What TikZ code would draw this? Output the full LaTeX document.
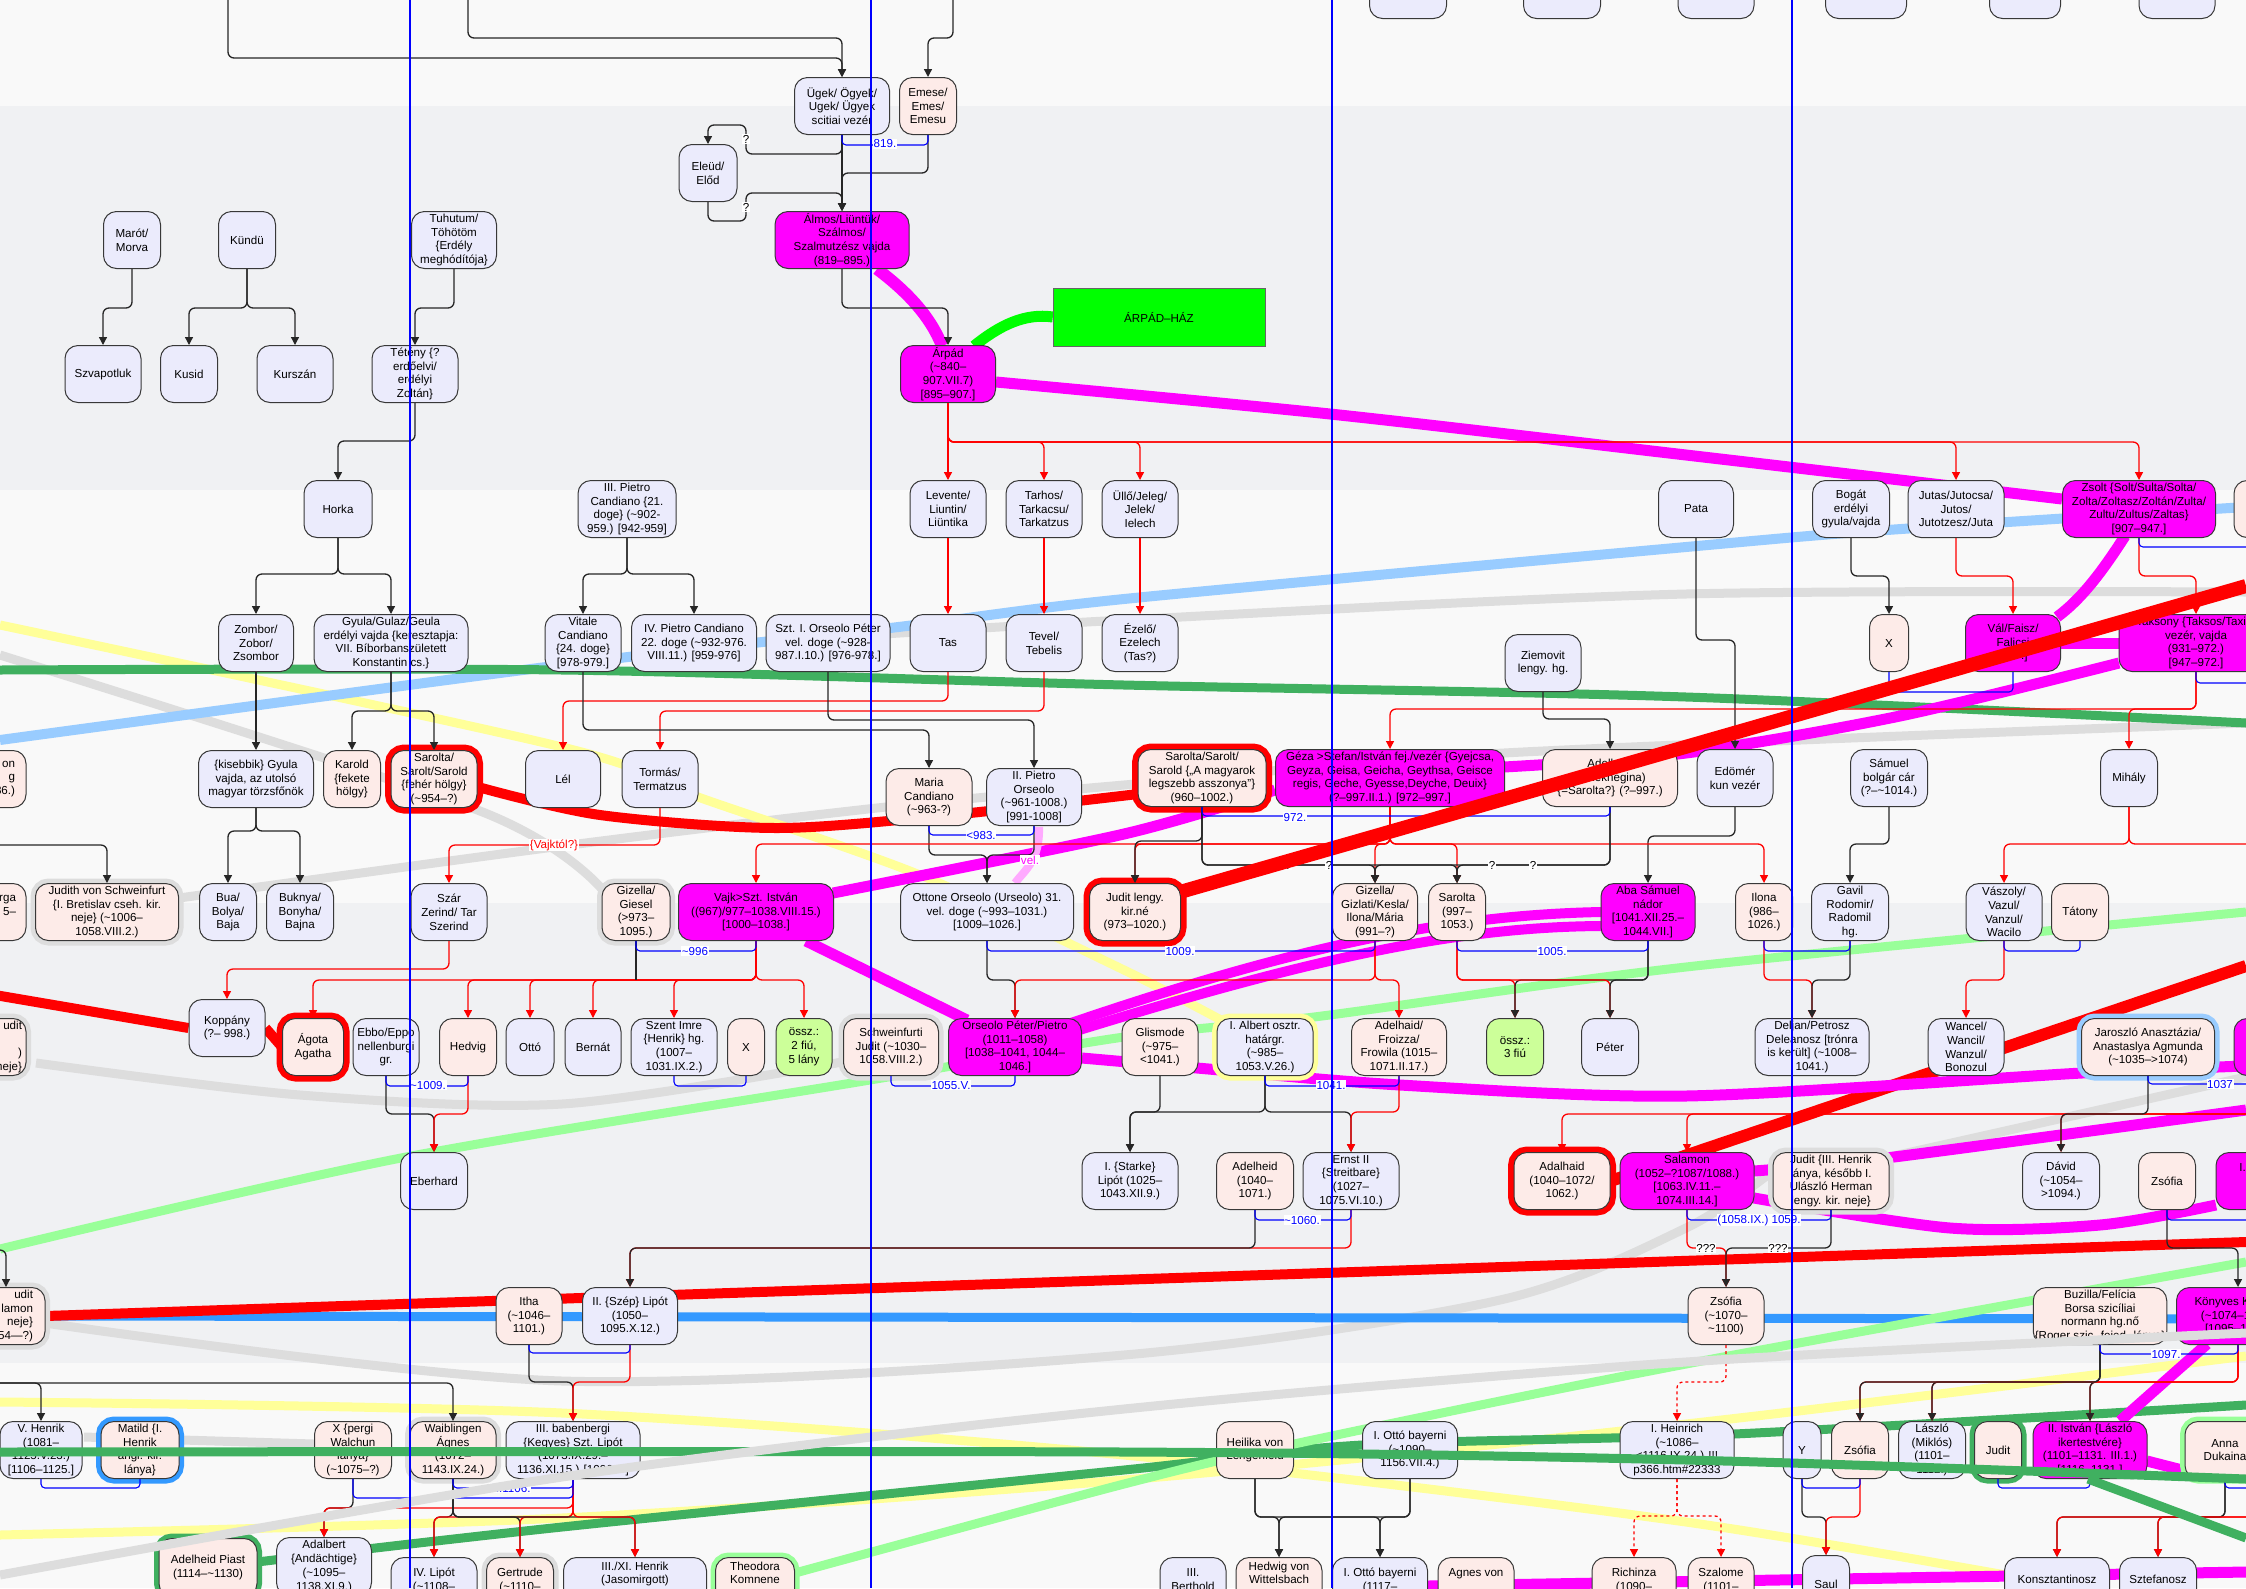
\documentclass[tikz,border=0pt]{standalone}
\usepackage{fontspec}
\setmainfont{Liberation Sans}
\usetikzlibrary{arrows.meta,backgrounds}
\definecolor{manfill}{RGB}{235,235,252}
\definecolor{womfill}{RGB}{253,235,232}
\definecolor{rulermag}{RGB}{255,0,255}
\definecolor{sumgreen}{RGB}{204,255,153}
\definecolor{bandgray}{RGB}{240,241,243}
\definecolor{pagegray}{RGB}{249,249,249}
\definecolor{dkgreen}{RGB}{64,176,96}
\definecolor{ltgreen}{RGB}{153,255,153}
\definecolor{ltyellow}{RGB}{255,255,153}
\definecolor{ltblue}{RGB}{153,204,255}
\definecolor{midblue}{RGB}{51,153,255}
\definecolor{ltgray}{RGB}{221,221,221}
\definecolor{housegreen}{RGB}{0,255,0}
\definecolor{velpink}{RGB}{255,170,255}
\newcommand{\nodefont}{\fontsize{11.6}{13.8}\selectfont}
\newcommand{\tld}{\textasciitilde}
\tikzset{
  person/.style={draw=black!78, line width=1pt, rounded corners=13pt, align=center, font=\nodefont, inner sep=1.5pt, minimum height=57pt},
  man/.style={person, fill=manfill},
  wom/.style={person, fill=womfill},
  ruler/.style={person, fill=rulermag},
  sumbox/.style={person, fill=sumgreen},
  redring/.style={preaction={draw=red, line width=12pt}},
  halo/.style={preaction={draw=#1, line width=10pt}},
  cutoff/.style={anchor=north, minimum height=58pt},
  kid/.style={draw=black!85, line width=1.3pt, rounded corners=6pt, -{Triangle[length=8pt,width=8pt]}},
  kidr/.style={kid, draw=red},
  blk/.style={draw=black!85, line width=1.3pt, rounded corners=6pt},
  redl/.style={blk, draw=red},
  wed/.style={draw=blue, line width=1.1pt, rounded corners=4pt},
  wedlab/.style={fill=white, text=blue, inner sep=0.6pt, font=\nodefont},
  qlab/.style={fill=white, inner sep=0.6pt, font=\nodefont},
  dyn/.style={line width=#1},
  dyn/.default=10pt
}
\begin{document}
\begin{tikzpicture}[x=1pt,y=-1pt]
  \useasboundingbox (0,0) rectangle (2246,1588);

  % boxes cut by the top edge
  \node[man, anchor=south, minimum width=77pt] (top1) at (1408,19) {};
  \node[man, anchor=south, minimum width=77pt] (top2) at (1562,19) {};
  \node[man, anchor=south, minimum width=76pt] (top3) at (1716,19) {};
  \node[man, anchor=south, minimum width=81pt] (top4) at (1866,19) {};
  \node[man, anchor=south, minimum width=71pt] (top5) at (2025,19) {};
  \node[man, anchor=south, minimum width=76pt] (top6) at (2177,19) {};

  % Ügek, Álmos, Árpád
  \node[man, minimum width=95pt] (ugek) at (842,106) {Ügek/ Ögyek/\\Ugek/ Ügyek\\scitiai vezér};
  \node[wom, minimum width=57pt] (emese) at (928,106) {Emese/\\Emes/\\Emesu};
  \node[man, minimum width=58pt] (eleud) at (708,173) {Eleüd/\\Előd};
  \node[ruler, minimum width=134pt] (almos) at (842,240) {Álmos/Liüntük/\\Szálmos/\\Szalmutzész vajda\\(819–895.)};
  \node[draw=black!60, fill=housegreen, minimum width=212pt, minimum height=58pt, font=\nodefont] (haz) at (1159,317) {ÁRPÁD–HÁZ};
  \node[ruler, minimum width=95pt] (arpad) at (948,374) {Árpád\\(\tld840–\\907.VII.7)\\{}[895–907.]};

  % left chiefs
  \node[man, minimum width=57pt] (marot) at (132,240) {Marót/\\Morva};
  \node[man, minimum width=57pt] (kundu) at (247,240) {Kündü};
  \node[man, minimum width=85pt] (tuhutum) at (454,240) {Tuhutum/\\Töhötöm\\\{Erdély\\meghódítója\}};
  \node[man, minimum width=76pt] (szvap) at (103,374) {Szvapotluk};
  \node[man, minimum width=57pt] (kusid) at (189,374) {Kusid};
  \node[man, minimum width=76pt] (kurszan) at (295,374) {Kurszán};
  \node[man, minimum width=86pt] (teteny) at (415,374) {Tétény \{?\\erdőelvi/\\erdélyi\\Zoltán\}};
  \node[man, minimum width=68pt] (horka) at (338,509) {Horka};

  % row of Árpád's sons
  \node[man, minimum width=98pt] (pietro3) at (627,509) {III. Pietro\\Candiano \{21.\\doge\} (\tld902-\\959.) [942-959]};
  \node[man, minimum width=76pt] (levente) at (948,509) {Levente/\\Liuntin/\\Liüntika};
  \node[man, minimum width=76pt] (tarhos) at (1044,509) {Tarhos/\\Tarkacsu/\\Tarkatzus};
  \node[man, minimum width=76pt] (ullo) at (1140,509) {Üllő/Jeleg/\\Jelek/\\Ielech};
  \node[man, minimum width=75pt] (pata) at (1696,509) {Pata};
  \node[man, minimum width=77pt] (bogat) at (1851,509) {Bogát\\erdélyi\\gyula/vajda};
  \node[man, minimum width=96pt] (jutas) at (1956,509) {Jutas/Jutocsa/\\Jutos/\\Jutotzesz/Juta};
  \node[ruler, minimum width=153pt] (zsolt) at (2139,509) {Zsolt \{Solt/Sulta/Solta/\\Zolta/Zoltasz/Zoltán/Zulta/\\Zultu/Zultus/Zaltas\}\\{}[907–947.]};
  \node[wom, minimum width=56pt] (rpa) at (2262,509) {};

  % grandsons
  \node[man, minimum width=75pt] (zombor) at (256,643) {Zombor/\\Zobor/\\Zsombor};
  \node[man, minimum width=154pt] (gyula) at (391,643) {Gyula/Gulaz/Geula\\erdélyi vajda \{keresztapja:\\VII. Bíborbanszületett\\Konstantin cs.\}};
  \node[man, minimum width=76pt] (vitale) at (583,643) {Vitale\\Candiano\\\{24. doge\}\\{}[978-979.]};
  \node[man, minimum width=125pt] (pietro4) at (694,643) {IV. Pietro Candiano\\22. doge (\tld932-976.\\VIII.11.) [959-976]};
  \node[man, minimum width=124pt] (orseoloa) at (828,643) {Szt. I. Orseolo Péter\\vel. doge (\tld928-\\987.I.10.) [976-978.]};
  \node[man, minimum width=76pt] (tas) at (948,643) {Tas};
  \node[man, minimum width=76pt] (tevel) at (1044,643) {Tevel/\\Tebelis};
  \node[man, minimum width=76pt] (ezelo) at (1140,643) {Ézelő/\\Ezelech\\(Tas?)};
  \node[man, minimum width=76pt] (ziemovit) at (1543,663) {Ziemovit\\lengy. hg.};
  \node[wom, minimum width=39pt] (xbog) at (1889,643) {X};
  \node[ruler, minimum width=95pt] (val) at (2013,643) {Vál/Faisz/\\Falicsi\\{}[947.]};
  \node[ruler, minimum width=154pt] (taksony) at (2196,643) {Taksony \{Taksos/Taxis\}\\vezér, vajda\\(931–972.)\\{}[947–972.]};

  % row of Géza
  \node[wom, minimum width=76pt, text width=54pt, align=right] (lpa) at (-12,779) {on\\g\\86.)};
  \node[man, minimum width=115pt] (gyulak) at (256,779) {\{kisebbik\} Gyula\\vajda, az utolsó\\magyar törzsfőnök};
  \node[wom, minimum width=57pt] (karold) at (352,779) {Karold\\\{fekete\\hölgy\}};
  \node[wom, redring, minimum width=86pt] (sarolta1) at (434,779) {Sarolta/\\Sarolt/Sarold\\\{fehér hölgy\}\\(\tld954–?)};
  \node[man, minimum width=75pt] (lel) at (563,779) {Lél};
  \node[man, minimum width=76pt] (tormas) at (660,779) {Tormás/\\Termatzus};
  \node[wom, minimum width=86pt] (maria) at (929,797) {Maria\\Candiano\\(\tld963-?)};
  \node[man, minimum width=95pt] (pietro2) at (1034,797) {II. Pietro\\Orseolo\\(\tld961-1008.)\\{}[991-1008]};
  \node[wom, redring, minimum width=128pt] (sarolta2) at (1202,778) {Sarolta/Sarolt/\\Sarold \{„A magyarok\\legszebb asszonya”\}\\(960–1002.)};
  \node[ruler, minimum width=229pt] (geza) at (1390,778) {Géza >Stefan/István fej./vezér \{Gyejcsa,\\Geyza, Geisa, Geicha, Geythsa, Geisce\\regis, Geche, Gyesse,Deyche, Deuix\}\\(?–997.II.1.) [972–997.]};
  \node[wom, minimum width=135pt] (adelhaid) at (1610,778) {Adelhaid\\(Beleknegina)\\\{=Sarolta?\} (?–997.)};
  \node[man, minimum width=76pt] (edomer) at (1735,778) {Edömér\\kun vezér};
  \node[man, minimum width=77pt] (samuel) at (1889,778) {Sámuel\\bolgár cár\\(?–\tld1014.)};
  \node[man, minimum width=57pt] (mihaly) at (2129,778) {Mihály};

  % row of István
  \node[wom, minimum width=76pt, text width=56pt, align=right] (lpb) at (-12,912) {rga\\5–\\\mbox{}};
  \node[wom, halo=ltgray, minimum width=143pt] (judithsch) at (107,912) {Judith von Schweinfurt\\\{I. Bretislav cseh. kir.\\neje\} (\tld1006–\\1058.VIII.2.)};
  \node[man, minimum width=57pt] (bua) at (228,912) {Bua/\\Bolya/\\Baja};
  \node[man, minimum width=67pt] (buknya) at (300,912) {Buknya/\\Bonyha/\\Bajna};
  \node[man, minimum width=76pt] (szar) at (449,912) {Szár\\Zerind/ Tar\\Szerind};
  \node[wom, halo=ltgray, minimum width=68pt] (gizella) at (636,912) {Gizella/\\Giesel\\(>973–\\1095.)};
  \node[ruler, minimum width=155pt] (vajk) at (756,912) {Vajk>Szt. István\\((967)/977–1038.VIII.15.)\\{}[1000–1038.]};
  \node[man, minimum width=173pt] (ottone) at (987,912) {Ottone Orseolo (Urseolo) 31.\\vel. doge (\tld993–1031.)\\{}[1009–1026.]};
  \node[wom, redring, minimum width=91pt] (juditl) at (1135,912) {Judit lengy.\\kir.né\\(973–1020.)};
  \node[wom, minimum width=85pt] (gizella2) at (1375,912) {Gizella/\\Gizlati/Kesla/\\Ilona/Mária\\(991–?)};
  \node[wom, minimum width=57pt] (sarolta3) at (1457,912) {Sarolta\\(997–\\1053.)};
  \node[ruler, minimum width=94pt] (aba) at (1648,912) {Aba Sámuel\\nádor\\{}[1041.XII.25.–\\1044.VII.]};
  \node[wom, minimum width=57pt] (ilona) at (1764,912) {Ilona\\(986–\\1026.)};
  \node[man, minimum width=77pt] (gavil) at (1850,912) {Gavil\\Rodomir/\\Radomil\\hg.};
  \node[man, minimum width=76pt] (vaszoly) at (2004,912) {Vászoly/\\Vazul/\\Vanzul/\\Wacilo};
  \node[wom, minimum width=57pt] (tatony) at (2080,912) {Tátony};
  \node[man, minimum width=76pt] (koppany) at (227,1028) {Koppány\\(?– 998.)};

  % row of Imre and Orseolo Péter
  \node[wom, halo=ltgray, minimum width=76pt, text width=68pt, align=right] (lpc) at (-12,1047) {udit\\\mbox{}\\)\\neje\}};
  \node[wom, redring, minimum width=61pt] (agota) at (313,1047) {Ágota\\Agatha};
  \node[man, minimum width=66pt] (ebbo) at (386,1047) {Ebbo/Eppo\\nellenburgi\\gr.};
  \node[wom, minimum width=57pt] (hedvig) at (468,1047) {Hedvig};
  \node[man, minimum width=48pt] (otto) at (530,1047) {Ottó};
  \node[man, minimum width=56pt] (bernat) at (593,1047) {Bernát};
  \node[man, minimum width=86pt] (imre) at (674,1047) {Szent Imre\\\{Henrik\} hg.\\(1007–\\1031.IX.2.)};
  \node[wom, minimum width=37pt] (ximre) at (746,1047) {X};
  \node[sumbox, minimum width=56pt] (osszA) at (804,1047) {össz.:\\2 fiú,\\5 lány};
  \node[wom, halo=ltgray, minimum width=95pt] (judits) at (891,1047) {Schweinfurti\\Judit (\tld1030–\\1058.VIII.2.)};
  \node[ruler, minimum width=133pt] (orseolo) at (1015,1047) {Orseolo Péter/Pietro\\(1011–1058)\\{}[1038–1041, 1044–\\1046.]};
  \node[wom, minimum width=76pt] (glismode) at (1160,1047) {Glismode\\(\tld975–\\<1041.)};
  \node[man, halo=ltyellow, minimum width=96pt] (albert) at (1265,1047) {I. Albert osztr.\\határgr.\\(\tld985–\\1053.V.26.)};
  \node[wom, minimum width=95pt] (frowila) at (1399,1047) {Adelhaid/\\Froizza/\\Frowila (1015–\\1071.II.17.)};
  \node[sumbox, minimum width=57pt] (osszB) at (1515,1047) {össz.:\\3 fiú};
  \node[man, minimum width=57pt] (peter) at (1610,1047) {Péter};
  \node[man, minimum width=114pt] (deljan) at (1812,1047) {Deljan/Petrosz\\Deleanosz [trónra\\is került] (\tld1008–\\1041.)};
  \node[man, minimum width=76pt] (wancel) at (1966,1047) {Wancel/\\Wancil/\\Wanzul/\\Bonozul};
  \node[wom, halo=ltblue, minimum width=133pt] (jaroszlo) at (2148,1047) {Jaroszló Anasztázia/\\Anastaslya Agmunda\\(\tld1035–>1074)};
  \node[ruler, minimum width=72pt] (rpb) at (2270,1047) {};

  % row of Salamon
  \node[man, minimum width=67pt] (eberhard) at (434,1181) {Eberhard};
  \node[man, minimum width=96pt] (starke) at (1130,1181) {I. \{Starke\}\\Lipót (1025–\\1043.XII.9.)};
  \node[wom, minimum width=77pt] (adelheidb) at (1255,1181) {Adelheid\\(1040–\\1071.)};
  \node[man, minimum width=96pt] (ernst) at (1351,1181) {Ernst II\\\{Streitbare\}\\(1027–\\1075.VI.10.)};
  \node[wom, redring, minimum width=96pt] (adalhaid) at (1562,1181) {Adalhaid\\(1040–1072/\\1062.)};
  \node[ruler, minimum width=134pt] (salamon) at (1687,1181) {Salamon\\(1052–?1087/1088.)\\{}[1063.IV.11.–\\1074.III.14.]};
  \node[wom, halo=ltgray, minimum width=116pt] (judith) at (1831,1181) {Judit \{III. Henrik\\lánya, később I.\\Ulászló Herman\\lengy. kir. neje\}};
  \node[man, minimum width=77pt] (david) at (2061,1181) {Dávid\\(\tld1054–\\>1094.)};
  \node[wom, minimum width=57pt] (zsofiar) at (2167,1181) {Zsófia};
  \node[ruler, minimum width=84pt] (gezaa) at (2258,1181) {I. Géza\\\mbox{}\\\mbox{}};

  % row of Lipót and Könyves
  \node[wom, halo=ltgray, minimum width=100pt, text width=76pt, align=right] (lpd) at (-5,1316) {udit\\lamon\\neje\}\\54—?)};
  \node[wom, minimum width=66pt] (itha) at (529,1316) {Itha\\(\tld1046–\\1101.)};
  \node[man, minimum width=95pt] (lipotb) at (630,1316) {II. \{Szép\} Lipót\\(1050–\\1095.X.12.)};
  \node[wom, minimum width=76pt] (zsofia) at (1726,1316) {Zsófia\\(\tld1070–\\\tld1100)};
  \node[wom, minimum width=133pt] (buzilla) at (2100,1316) {Buzilla/Felícia\\Borsa szicíliai\\normann hg.nő\\\{Roger szic. fejed. lánya\}};
  \node[ruler, minimum width=123pt] (konyves) at (2238,1316) {Könyves Kálmán\\(\tld1074–1116.)\\{}[1095–1116.]};

  % row of V. Henrik
  \node[man, minimum width=82pt] (henrikv) at (41,1450) {V. Henrik\\(1081–\\1125.V.23.)\\{}[1106–1125.]};
  \node[wom, halo=midblue, minimum width=78pt] (matild) at (140,1450) {Matild \{I.\\Henrik\\angl. kir.\\lánya\}};
  \node[wom, minimum width=77pt] (xpergi) at (353,1450) {X \{pergi\\Walchun\\lánya\}\\(\tld1075–?)};
  \node[wom, halo=ltgray, minimum width=86pt] (waibl) at (453,1450) {Waiblingen\\Ágnes\\(1072–\\1143.IX.24.)};
  \node[man, minimum width=134pt] (babenb) at (573,1450) {III. babenbergi\\\{Kegyes\} Szt. Lipót\\(1073.IX.29.–\\1136.XI.15.) [1096–?]};
  \node[wom, minimum width=77pt] (heilika) at (1255,1450) {Heilika von\\Lengenfeld};
  \node[man, minimum width=95pt] (ottoa) at (1410,1450) {I. Ottó bayerni\\(\tld1090–\\1156.VII.4.)};
  \node[man, minimum width=114pt] (heinrich) at (1677,1450) {I. Heinrich\\(\tld1086–\\<1116.IX.24.) !!!\\p366.htm\#22333};
  \node[man, minimum width=38pt] (yman) at (1802,1450) {Y};
  \node[wom, minimum width=57pt] (zsofiac) at (1860,1450) {Zsófia};
  \node[man, minimum width=67pt] (laszlo) at (1932,1450) {László\\(Miklós)\\(1101–\\1112.)};
  \node[wom, halo=dkgreen, minimum width=47pt] (juditb) at (1998,1450) {Judit};
  \node[ruler, minimum width=114pt] (istvanb) at (2090,1450) {II. István \{László\\ikertestvére\}\\(1101–1131. III.1.)\\{}[1116–1131.]};
  \node[wom, halo=ltgreen, minimum width=80pt] (anna) at (2225,1450) {Anna\\Dukaina};

  % bottom row, cut by the edge
  \node[wom, halo=dkgreen, cutoff, minimum width=98pt] (piast) at (208,1538) {Adelheid Piast\\(1114–\tld1130)};
  \node[man, cutoff, minimum width=95pt] (adalbert) at (324,1537) {Adalbert\\\{Andächtige\}\\(\tld1095–\\1138.XI.9.)};
  \node[man, cutoff, minimum width=86pt] (lipotd) at (434,1557) {IV. Lipót\\(\tld1108–\\\mbox{}};
  \node[wom, halo=ltgray, cutoff, minimum width=67pt] (gertrude) at (520,1557) {Gertrude\\(\tld1110–\\\mbox{}};
  \node[man, cutoff, minimum width=143pt] (henrikc) at (635,1557) {III./XI. Henrik\\(Jasomirgott)\\\mbox{}\\\mbox{}};
  \node[wom, halo=ltgreen, cutoff, minimum width=79pt] (theodora) at (755,1557) {Theodora\\Komnene\\\mbox{}\\\mbox{}};
  \node[man, cutoff, minimum width=66pt] (berthold) at (1193,1557) {III.\\Berthold\\\mbox{}};
  \node[wom, cutoff, minimum width=86pt] (hedwig) at (1279,1557) {Hedwig von\\Wittelsbach\\\mbox{}\\\mbox{}};
  \node[man, cutoff, minimum width=95pt] (ottob) at (1380,1557) {I. Ottó bayerni\\(1117–\\\mbox{}};
  \node[wom, cutoff, minimum width=76pt] (agnes) at (1476,1557) {Agnes von\\\mbox{}\\\mbox{}};
  \node[wom, cutoff, minimum width=84pt] (richinza) at (1634,1557) {Richinza\\(1090–\\\mbox{}};
  \node[wom, cutoff, minimum width=66pt] (szalome) at (1721,1557) {Szalome\\(1101–\\\mbox{}};
  \node[man, cutoff, minimum width=47pt] (saul) at (1826,1555) {Saul};
  \node[man, cutoff, minimum width=105pt] (konst) at (2057,1557) {Konsztantinosz\\\mbox{}};
  \node[man, cutoff, minimum width=77pt] (sztef) at (2158,1557) {Sztefanosz\\\mbox{}};

  % parents and children
  \coordinate (upa) at (228,-5);
  \coordinate (upb) at (468,-5);
  \coordinate (upc) at (953,-5);
  \draw[kid] (upa) -- (upa |- 0,58) -| (ugek.north);
  \draw[kid] (upb) -- (upb |- 0,38) -| (ugek.north);
  \draw[kid] (upc) -- (upc |- 0,38) -| (emese.north);
  \draw[kid] (ugek.south) |- (746,154) -- (746,125) -| (eleud.north);
  \draw[kid] (eleud.south) |- (746,221) -- (746,193) -| (almos.north);
  \draw[kid] (ugek.south) -- (almos.north);
  \draw[kid] (emese.south) -- (emese.south |- 0,173) -| (almos.north);
  \draw[kid] (almos.south) -- (almos.south |- 0,308) -| (arpad.north);
  \foreach \ch in {levente,tarhos,ullo,jutas,zsolt}
    \draw[kidr] (arpad.south) -- (arpad.south |- 0,442) -| (\ch.north);
  \draw[kid] (marot.south) -- (marot.south |- 0,308) -| (szvap.north);
  \foreach \ch in {kusid,kurszan}
    \draw[kid] (kundu.south) -- (kundu.south |- 0,308) -| (\ch.north);
  \draw[kid] (tuhutum.south) -- (tuhutum.south |- 0,308) -| (teteny.north);
  \draw[kid] (teteny.south) -- (teteny.south |- 0,441) -| (horka.north);
  \foreach \ch in {zombor,gyula}
    \draw[kid] (horka.south) -- (horka.south |- 0,574) -| (\ch.north);
  \foreach \ch in {vitale,pietro4}
    \draw[kid] (pietro3.south) -- (pietro3.south |- 0,574) -| (\ch.north);
  \draw[kidr] (levente.south) -- (tas.north);
  \draw[kidr] (tarhos.south) -- (tevel.north);
  \draw[kidr] (ullo.south) -- (ezelo.north);
  \draw[kid] (zombor.south) -- (gyulak.north);
  \foreach \ch in {karold,sarolta1}
    \draw[kid] (gyula.south) -- (gyula.south |- 0,711) -| (\ch.north);
  \draw[kidr] (tas.south) -- (tas.south |- 0,701) -| (lel.north);
  \draw[kidr] (tevel.south) -- (tevel.south |- 0,711) -| (tormas.north);
  \draw[kid] (vitale.south) -- (vitale.south |- 0,730) -| (maria.north);
  \draw[kid] (orseoloa.south) -- (orseoloa.south |- 0,720) -| (pietro2.north);
  \draw[kid] (ziemovit.south) -- (ziemovit.south |- 0,719) -| (adelhaid.north);
  \draw[kid] (pata.south) -- (pata.south |- 0,640) -| (edomer.north);
  \draw[kid] (bogat.south) -- (bogat.south |- 0,576) -| (xbog.north);
  \draw[kidr] (jutas.south) -- (jutas.south |- 0,576) -| (val.north);
  \draw[kidr] (zsolt.south) -- (zsolt.south |- 0,576) -| (taksony.north);
  \foreach \ch in {geza,mihaly}
    \draw[kidr] (taksony.south) -- (taksony.south |- 0,709) -| (\ch.north);
  \draw[kid] (samuel.south) -- (samuel.south |- 0,844) -| (gavil.north);
  \draw[kidr] (mihaly.south) -- (mihaly.south |- 0,844) -| (vaszoly.north);
  \draw[redl] (mihaly.south) |- (2260,844);
  \draw[kid] (edomer.south) -- (edomer.south |- 0,836) -| (aba.north);
  \foreach \ch in {bua,buknya}
    \draw[kid] (gyulak.south) -- (gyulak.south |- 0,831) -| (\ch.north);
  \coordinate (lfa) at (-10,845);
  \draw[kid] (lfa) -| (judithsch.north);
  \draw[kidr] (tormas.south) -- (tormas.south |- 0,845) -| (szar.north);
  \node[qlab, text=red] (vajkq) at (554,845) {\{Vajktól?\}};
  \draw[kidr] (szar.south) -- (szar.south |- 0,969) -| (koppany.north);
  \draw[kid] (maria.south) -- (maria.south |- 0,855) -| (ottone.north);
  \draw[kid] (pietro2.south) -- (pietro2.south |- 0,855) -| (ottone.north);
  \foreach \ch in {vajk,juditl,gizella2,sarolta3,ilona}
    \draw[kidr] (geza.south) -- (geza.south |- 0,844) -| (\ch.north);
  \draw[kid] (sarolta2.south) -- (sarolta2.south |- 0,841) -| (juditl.north);
  \foreach \ch in {gizella2,sarolta3} {
    \draw[kid] (sarolta2.south) -- (sarolta2.south |- 0,865) -| (\ch.north);
    \draw[kid] (adelhaid.south) -- (adelhaid.south |- 0,865) -| (\ch.north);
  }
  \node[qlab] (qc) at (1288,865) {?};
  \node[qlab] (qd) at (1329,865) {?};
  \node[qlab] (qe) at (1492,865) {?};
  \node[qlab] (qf) at (1533,865) {?};
  \node[qlab] (qa) at (746,139) {?};
  \node[qlab] (qb) at (746,207) {?};
  \foreach \ch in {agota,hedvig,otto,bernat,imre,osszA}
    \draw[kidr] (vajk.south) -- (vajk.south |- 0,980) -| (\ch.north);
  \draw[blk] (gizella.south) -- (gizella.south |- 0,980);
  \draw[kid] (ottone.south) -- (ottone.south |- 0,980) -| (orseolo.north);
  \foreach \ch in {orseolo,frowila}
    \draw[kidr] (gizella2.south) -- (gizella2.south |- 0,980) -| (\ch.north);
  \foreach \ch in {osszB,peter} {
    \draw[kidr] (sarolta3.south) -- (sarolta3.south |- 0,980) -| (\ch.north);
    \draw[kid] (aba.south) -- (aba.south |- 0,980) -| (\ch.north);
  }
  \draw[kidr] (ilona.south) -- (ilona.south |- 0,980) -| (deljan.north);
  \draw[kid] (gavil.south) -- (gavil.south |- 0,980) -| (deljan.north);
  \draw[kidr] (vaszoly.south) -- (vaszoly.south |- 0,980) -| (wancel.north);
  \draw[kid] (ebbo.south) -- (ebbo.south |- 0,1114) -| (eberhard.north);
  \draw[kidr] (hedvig.south) -- (hedvig.south |- 0,1114) -| (eberhard.north);
  \draw[kid] (glismode.south) -- (glismode.south |- 0,1112) -| (starke.north);
  \foreach \ch in {starke,ernst}
    \draw[kid] (albert.south) -- (albert.south |- 0,1112) -| (\ch.north);
  \draw[kidr] (frowila.south) -- (frowila.south |- 0,1112) -| (ernst.north);
  \draw[kidr] (ernst.south) -- (ernst.south |- 0,1248) -| (lipotb.north);
  \draw[kid] (adelheidb.south) -- (adelheidb.south |- 0,1248) -| (lipotb.north);
  \coordinate (rta) at (2260,1114);
  \foreach \ch in {adalhaid,salamon,david}
    \draw[kidr] (rta) -| (\ch.north);
  \draw[kid] (jaroszlo.south) -- (jaroszlo.south |- 0,1114) -| (david.north);
  \draw[kidr] (salamon.south) -- (salamon.south |- 0,1248) -| (zsofia.north);
  \draw[kid] (judith.south) -- (judith.south |- 0,1248) -| (zsofia.north);
  \node[qlab] (qg) at (1706,1248) {???};
  \node[qlab] (qh) at (1778,1248) {???};
  \draw[kid] (zsofiar.south) -- (zsofiar.south |- 0,1248) -| (konyves.north);
  \foreach \ch in {istvanb,laszlo,zsofiac} {
    \draw[kidr] (konyves.south) -- (konyves.south |- 0,1382) -| (\ch.north);
    \draw[kid] (buzilla.south) -- (buzilla.south |- 0,1382) -| (\ch.north);
  }
  \coordinate (lfd) at (-20,1250);
  \draw[kid] (lfd) -| ([xshift=11pt]lpd.north);
  \draw[kid] (itha.south) -- (itha.south |- 0,1382) -| (babenb.north);
  \draw[kidr] (lipotb.south) -- (lipotb.south |- 0,1382) -| (babenb.north);
  \coordinate (lsal) at (-10,1383);
  \draw[kid] (lsal) -| (henrikv.north);
  \draw[kid] (lsal) -| (waibl.north);
  \draw[kid] (xpergi.south) -- (xpergi.south |- 0,1508) -| (adalbert.north);
  \draw[kidr] (babenb.south) -- (babenb.south |- 0,1508) -| (adalbert.north);
  \foreach \ch in {lipotd,gertrude,henrikc} {
    \draw[kid] (waibl.south) -- (waibl.south |- 0,1517) -| (\ch.north);
    \draw[kidr] (babenb.south) -- (babenb.south |- 0,1517) -| (\ch.north);
  }
  \draw[kidr, dashed] (zsofia.south) -- (zsofia.south |- 0,1382) -| (heinrich.north);
  \foreach \ch in {richinza,szalome}
    \draw[kidr, dashed] (heinrich.south) -- (heinrich.south |- 0,1516) -| (\ch.north);
  \foreach \ch in {hedwig,ottob} {
    \draw[kid] (heilika.south) -- (heilika.south |- 0,1517) -| (\ch.north);
    \draw[kid] (ottoa.south) -- (ottoa.south |- 0,1517) -| (\ch.north);
  }
  \draw[kid] (yman.south) -- (yman.south |- 0,1517) -| (saul.north);
  \draw[kidr] (zsofiac.south) -- (zsofiac.south |- 0,1517) -| (saul.north);
  \coordinate (rtb) at (2260,1517);
  \foreach \ch in {konst,sztef} {
    \draw[kid] (anna.south) -- (anna.south |- 0,1517) -| (\ch.north);
    \draw[kidr] (rtb) -| (\ch.north);
  }

  % marriages
  \draw[wed] (ugek.south) -- ++(0,10) -| (emese.south);
  \node[wedlab] (wa) at (885,144) {819.};
  \draw[wed] (maria.south) -- ++(0,9) -| (pietro2.south);
  \node[wedlab] (wb) at (981,835) {<983.};
  \draw[wed] (sarolta2.south) -- ++(0,9) -| (adelhaid.south);
  \node[wedlab] (wc) at (1295,817) {972.};
  \draw[wed] (xbog.south) -- ++(0,20) -| (val.south);
  \draw[wed] (zsolt.south) |- (2260,547);
  \draw[wed] (taksony.south) |- (2260,683);
  \draw[wed] (gizella.south) -- ++(0,10) -| (vajk.south);
  \node[wedlab] (wd) at (695,951) {\tld996};
  \draw[wed] (ottone.south) -- ++(0,10) -| (gizella2.south);
  \node[wedlab] (we) at (1180,951) {1009.};
  \draw[wed] (sarolta3.south) -- ++(0,10) -| (aba.south);
  \node[wedlab] (wf) at (1552,951) {1005.};
  \draw[wed] (ilona.south) -- ++(0,10) -| (gavil.south);
  \draw[wed] (vaszoly.south) -- ++(0,10) -| (tatony.south);
  \draw[wed] (ebbo.south) -- ++(0,10) -| (hedvig.south);
  \node[wedlab] (wg) at (428,1085) {\tld1009.};
  \draw[wed] (imre.south) -- ++(0,10) -| (ximre.south);
  \draw[wed] (judits.south) -- ++(0,10) -| (orseolo.south);
  \node[wedlab] (wh) at (951,1085) {1055.V.};
  \draw[wed] (albert.south) -- ++(0,10) -| (frowila.south);
  \node[wedlab] (wi) at (1331,1085) {1041.};
  \draw[wed] (jaroszlo.south) |- (2260,1084);
  \node[wedlab] (wj) at (2220,1084) {1037};
  \draw[wed] (adelheidb.south) -- ++(0,10) -| (ernst.south);
  \node[wedlab] (wk) at (1302,1220) {\tld1060.};
  \draw[wed] (salamon.south) -- ++(0,10) -| (judith.south);
  \node[wedlab] (wl) at (1759,1220) {(1058.IX.) 1059.};
  \draw[wed] (zsofiar.south) |- (2260,1220);
  \draw[wed] (itha.south) -- ++(0,8) -| (lipotb.south);
  \draw[wed] (buzilla.south) -- ++(0,9) -| (konyves.south);
  \node[wedlab] (wm) at (2166,1354) {1097.};
  \draw[wed] (henrikv.south) -- ++(0,9) -| (matild.south);
  \draw[wed] (waibl.south) -- ++(0,9) -| (babenb.south);
  \node[wedlab] (wn) at (510,1488) {2.:1106.};
  \draw[wed] (xpergi.south) -- ++(0,19) -| (babenb.south);
  \draw[wed] (yman.south) -- ++(0,9) -| (zsofiac.south);
  \draw[wed] (juditb.south) -- ++(0,9) -| (istvanb.south);
  \draw[wed] (anna.south) |- (2260,1488);

  % background, bands and dynasty lines under the boxes
  \begin{scope}[on background layer]
    \clip (0,0) rectangle (2246,1588);
    \fill[pagegray] (0,0) rectangle (2246,1588);
    \fill[bandgray] (0,106) rectangle (2246,490);
    \fill[bandgray] (0,903) rectangle (2246,1363);
    % grey
    \draw[dyn=9pt, ltgray] plot[smooth] coordinates {(0,655) (480,811) (601,888)};
    \draw[dyn=9pt, ltgray] plot[smooth] coordinates {(179,898) (562,846) (886,807) (1124,785) (1504,753) (2246,723)};
    \draw[dyn=9pt, ltgray] plot[smooth] coordinates {(756,642) (1124,620) (1686,594) (2246,592)};
    \draw[dyn=9pt, ltgray] plot[smooth] coordinates {(36,1063) (300,1095) (562,1104) (842,1062)};
    \draw[dyn=9pt, ltgray] plot[smooth] coordinates {(45,1323) (562,1381) (1124,1355) (1500,1300) (1686,1228) (1774,1170)};
    \draw[dyn=9pt, ltgray] (1889,1157) -- (2246,1077);
    \draw[dyn=9pt, ltgray] (84,1437) -- (314,1444);
    % yellow
    \draw[dyn=9pt, ltyellow] plot[smooth] coordinates {(0,625) (562,747) (698,797) (920,875) (1124,970) (1221,1020)};
    \draw[dyn=9pt, ltyellow] plot[smooth] coordinates {(0,1402) (562,1413) (1124,1455) (1686,1522) (2100,1592)};
    \draw[dyn=9pt, ltyellow] plot[smooth] coordinates {(0,1535) (562,1518) (1124,1480) (1686,1424) (2246,1356)};
    % light blue and blue
    \draw[dyn=10pt, ltblue] plot[smooth] coordinates {(0,740) (562,665) (890,628) (1124,599) (1686,547) (1887,530) (2246,507)};
    \draw[dyn=9pt, midblue] (lpd.east) -- (2246,1319);
    % greens
    \draw[dyn=9pt, dkgreen] plot[smooth] coordinates {(0,670) (562,670) (1124,685) (1686,697) (2246,723)};
    \draw[dyn=9pt, dkgreen] plot[smooth] coordinates {(257,1562) (562,1527) (1124,1470) (1362,1445) (1734,1434) (2246,1405)};
    \draw[dyn=9pt, ltgreen] plot[smooth] coordinates {(0,1249) (401,1158) (870,1080) (1124,1037) (1314,1017) (1686,967) (2246,912)};
    \draw[dyn=9pt, ltgreen] plot[smooth] coordinates {(795,1573) (1124,1484) (1294,1444) (1686,1364) (2246,1262)};
    \draw[dyn=11pt, housegreen] (974,346) .. controls (1000,325) and (1025,313) .. (haz.west);
    % red
    \draw[dyn=10pt, red] (-5,995) -- (koppany.west);
    \draw[dyn=10pt, red] (koppany.east) -- (agota.west);
    \draw[dyn=10pt, red] plot[smooth] coordinates {(478,787) (600,815) (777,828) (950,815) (1138,794)};
    \draw[dyn=12pt, red] (adalhaid.east) -- (2246,966);
    \draw[dyn=10pt, red] (lpd.east) -- (2246,1242);
    % magenta
    \draw[dyn=12pt, rulermag] (877,269) .. controls (905,290) and (930,315) .. (942,346);
    \draw[dyn=11pt, rulermag] plot[smooth] coordinates {(996,382) (1330,414) (1686,455) (2062,499)};
    \draw[dyn=11pt, rulermag] (2125,536) .. controls (2100,575) and (2080,600) .. (2057,617);
    \draw[dyn=11pt, rulermag] (val.east) -- (taksony.west);
    \draw[dyn=11pt, rulermag] plot[smooth] coordinates {(2119,663) (1900,716) (1686,753) (1504,767)};
    \draw[dyn=11pt, rulermag] plot[smooth] coordinates {(1275,790) (1124,834) (833,893)};
    \draw[dyn=11pt, rulermag] (806,941) -- (967,1020);
    \draw[dyn=10pt, rulermag] (1071,1023) .. controls (1300,945) and (1450,915) .. (1601,912);
    \draw[dyn=10pt, rulermag] (1076,1031) .. controls (1300,962) and (1450,927) .. (1601,926);
    \draw[dyn=11pt, rulermag] plot[smooth] coordinates {(1082,1058) (1197,1068) (1400,1085) (1686,1096) (2082,1073) (2246,1066)};
    \draw[dyn=11pt, rulermag] plot[smooth] coordinates {(1754,1171) (1886,1158) (2246,1110)};
    \draw[dyn=11pt, rulermag] plot[smooth] coordinates {(1754,1198) (1950,1228) (2100,1225) (2216,1205)};
    \draw[dyn=11pt, rulermag] (2207,1344) -- (2120,1421);
    \draw[dyn=11pt, rulermag] (2147,1461) -- (2186,1471);
    \draw[dyn=11pt, rulermag] (1428,1586) -- (2246,1572);
    \draw[dyn=8pt, velpink] (1039,827) .. controls (1040,860) and (1025,870) .. (1015,883);
  \end{scope}
  \node[font=\nodefont, text=rulermag, fill=white, inner sep=0.6pt] (vel) at (1030,860) {vel.};

  % dynasty lines over the boxes, and the time lines
  \begin{scope}
    \clip (0,0) rectangle (2246,1588);
    \draw[dyn=14pt, red] (1180,892) -- (2246,586);
    \draw[dyn=9pt, dkgreen] plot[smooth] coordinates {(0,1452) (1124,1452) (1686,1460) (2246,1479)};
    \draw[dyn=9pt, dkgreen] (2088,1479) -- (2246,1538);
    \draw[dyn=9pt, ltgray] plot[smooth] coordinates {(0,1575) (562,1477) (1124,1409) (1686,1362) (2246,1333)};
    \foreach \vx in {410,871,1332,1792}
      \draw[blue, line width=1.4pt] (\vx,0) -- (\vx,1588);
  \end{scope}
\end{tikzpicture}
\end{document}
